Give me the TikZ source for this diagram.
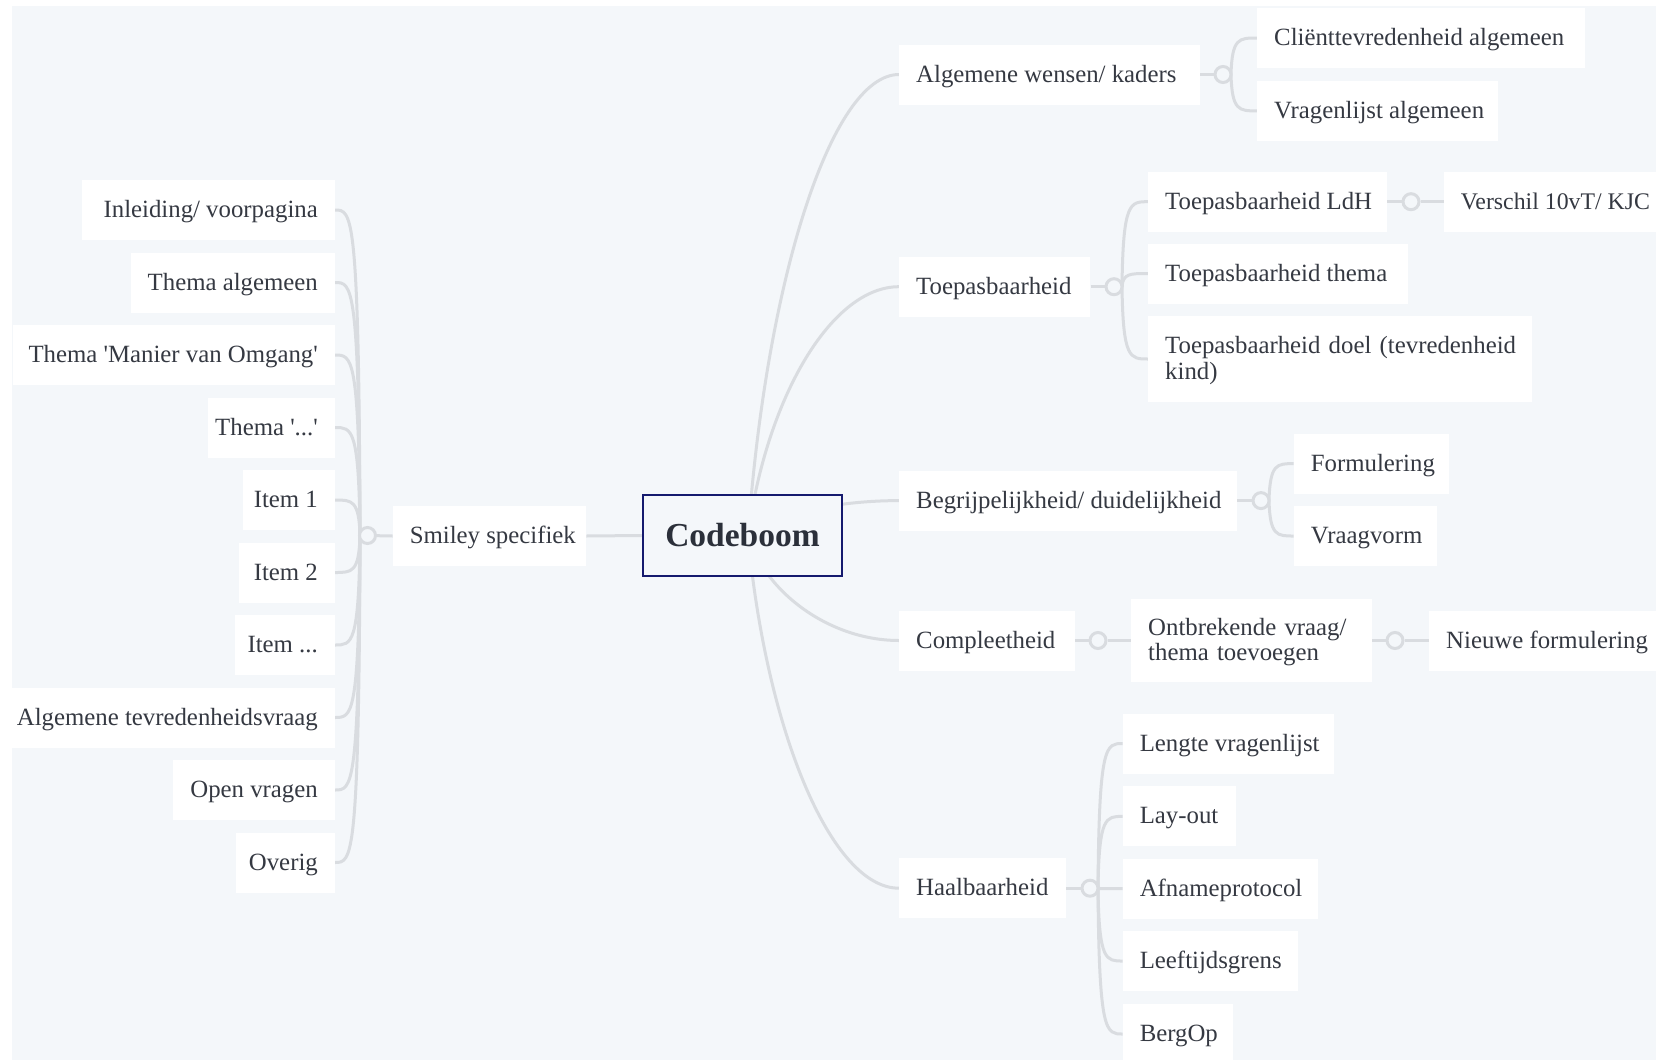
\documentclass[tikz,border=0pt]{standalone}
\usepackage{fontspec}
\setmainfont{Liberation Serif}[Ligatures=TeXOff]
\definecolor{bgc}{HTML}{F4F7FA}
\definecolor{linec}{HTML}{D9DCE0}
\definecolor{txt}{HTML}{353942}
\definecolor{navy}{HTML}{151A6E}
\definecolor{cbtxt}{HTML}{2B303A}
\pgfdeclarelayer{bglayer}
\pgfdeclarelayer{linelayer}
\pgfsetlayers{bglayer,linelayer,main}
\newcommand\Lbx[2]{\makebox[#1pt][l]{#2}}
\newcommand\Rbx[2]{\makebox[#1pt][r]{#2}}
\begin{document}
\begin{tikzpicture}[x=1pt,y=-1pt,
  box/.style={fill=white, text=txt, font=\fontsize{24.8}{25.5}\selectfont, inner xsep=17pt, inner ysep=0pt, minimum height=60pt, text height=18pt, text depth=3pt},
  twoline/.style={text height=18pt, text depth=28.5pt, align=left},
  conn/.style={draw=linec, line width=3pt},
  hub/.style={circle, draw=linec, fill=bgc, line width=3pt, minimum size=16pt, inner sep=0pt}]
\useasboundingbox (0,0) rectangle (1656,1060);
\begin{pgfonlayer}{bglayer}
  \fill[white] (0,0) rectangle (1656,1060);
  \fill[bgc] (12,6) rectangle (1656,1060);
\end{pgfonlayer}

% central node
\node[draw=navy, line width=2.5pt, fill=bgc, text=cbtxt, font=\bfseries\fontsize{33.5}{38}\selectfont, minimum width=199pt, minimum height=81pt, inner sep=0pt] (cb) at (742.5,535.5) {Codeboom};
\coordinate (cb0) at (748,536);

% left branch
\node[box] (sm) at (489.5,536) {\Lbx{159.3}{Smiley specifiek}};
\node[hub] (hL) at (367.5,535.5) {};
\node[box,anchor=east] (l1) at (335,210) {\Rbx{218.4}{Inleiding/ voorpagina}};
\node[box,anchor=east] (l2) at (335,282.5) {\Rbx{169.8}{Thema algemeen}};
\node[box,anchor=east] (l3) at (335,355) {\Rbx{288.1}{Thema 'Manier van Omgang'}};
\node[box,anchor=east] (l4) at (335,427.5) {\Rbx{92.7}{Thema '...'}};
\node[box,anchor=east] (l5) at (335,500) {\Rbx{57.9}{Item 1}};
\node[box,anchor=east] (l6) at (335,572.5) {\Rbx{62.1}{Item 2}};
\node[box,anchor=east] (l7) at (335,645) {\Rbx{66.3}{Item ...}};
\node[box,anchor=east] (l8) at (335,717.5) {\Rbx{290.2}{Algemene tevredenheidsvraag}};
\node[box,anchor=east] (l9) at (335,790) {\Rbx{127.6}{Open vragen}};
\node[box,anchor=east] (l10) at (335,862.5) {\Rbx{65.3}{Overig}};

% right main nodes
\node[box,anchor=west] (n1) at (899,74.5) {\Lbx{267}{Algemene wensen/ kaders}};
\node[box,anchor=west] (n2) at (899,286.7) {\Lbx{157.2}{Toepasbaarheid}};
\node[box,anchor=west] (n3) at (899,500.6) {\Lbx{304}{Begrijpelijkheid/ duidelijkheid}};
\node[box,anchor=west] (n4) at (899,640.5) {\Lbx{141.3}{Compleetheid}};
\node[box,anchor=west] (n5) at (899,888.2) {\Lbx{132.9}{Haalbaarheid}};

% hubs
\node[hub] (hA) at (1223,74.5) {};
\node[hub] (hB) at (1114,286.7) {};
\node[hub] (hF) at (1411,201.7) {};
\node[hub] (hC) at (1261,500.6) {};
\node[hub] (hD) at (1098,640.5) {};
\node[hub] (hG) at (1395,640.5) {};
\node[hub] (hE) at (1090,888.2) {};

% children
\node[box,anchor=west] (a1) at (1257,38) {\Lbx{293.4}{Cliënttevredenheid algemeen}};
\node[box,anchor=west] (a2) at (1257,110.9) {\Lbx{206.8}{Vragenlijst algemeen}};
\node[box,anchor=west] (b1) at (1148,201.7) {\Lbx{204.7}{Toepasbaarheid LdH}};
\node[box,anchor=west] (b2) at (1148,273.5) {\Lbx{225.8}{Toepasbaarheid thema}};
\node[box,twoline,anchor=west,minimum height=86.6pt,text width=349.4pt] (b3) at (1148,359) {\mbox{Toepasbaarheid doel (tevredenheid}\\kind)};
\node[box,anchor=west,font=\fontsize{23.8}{25.5}\selectfont] (b4) at (1443.7,201.7) {\Lbx{200}{Verschil 10vT/ KJC}};
\node[box,anchor=west] (c1) at (1293.7,463.6) {\Lbx{121.2}{Formulering}};
\node[box,anchor=west] (c2) at (1293.7,536) {\Lbx{108.6}{Vraagvorm}};
\node[box,twoline,anchor=west,minimum height=83.4pt,text width=206.8pt] (d1) at (1131,640.5) {\mbox{Ontbrekende vraag/}\\thema toevoegen};
\node[box,anchor=west] (d2) at (1429,640.5) {\Lbx{210}{Nieuwe formulering}};
\node[box,anchor=west] (e1) at (1122.6,743.5) {\Lbx{177.2}{Lengte vragenlijst}};
\node[box,anchor=west] (e2) at (1122.6,816.4) {\Lbx{79}{Lay-out}};
\node[box,anchor=west] (e3) at (1122.6,888.7) {\Lbx{161.4}{Afnameprotocol}};
\node[box,anchor=west] (e4) at (1122.6,961) {\Lbx{141.3}{Leeftijdsgrens}};
\node[box,anchor=west] (e5) at (1122.6,1034) {\Lbx{75.8}{BergOp}};

% trunk helper coordinates
\coordinate (hL0) at (360,535.5); \coordinate (hL1) at (359,0); \coordinate (hL2) at (352,0);
\coordinate (hA0) at (1231,74.5); \coordinate (hA1) at (1232,0); \coordinate (hA2) at (1239,0);
\coordinate (hB0) at (1122,286.7); \coordinate (hB1) at (1123,0); \coordinate (hB2) at (1130,0);
\coordinate (hC0) at (1269,500.6); \coordinate (hC1) at (1270,0); \coordinate (hC2) at (1277,0);
\coordinate (hE0) at (1098,888.2); \coordinate (hE1) at (1099,0); \coordinate (hE2) at (1106,0);

\begin{pgfonlayer}{linelayer}
  % center to main branches
  \draw[conn] (cb.west) -- (sm.east);
  \draw[conn] (cb0) .. controls (766,282.2) and (831,74.5) .. (n1.west);
  \draw[conn] (cb0) .. controls (766,398.9) and (831,286.7) .. (n2.west);
  \draw[conn] (cb0) .. controls (766,516.5) and (831,500.6) .. (n3.west);
  \draw[conn] (cb0) .. controls (766,593.8) and (831,640.5) .. (n4.west);
  \draw[conn] (cb0) .. controls (766,729.7) and (831,888.2) .. (n5.west);
  % left
  \draw[conn] (sm.west) -- (hL);
  \foreach \n in {l1,l2,l3,l4,l5,l6,l7,l8,l9,l10}
    \draw[conn] (hL0) .. controls (hL1 |- \n.east) and (hL2 |- \n.east) .. (\n.east);
  % Algemene
  \draw[conn] (n1.east) -- (hA);
  \foreach \n in {a1,a2}
    \draw[conn] (hA0) .. controls (hA1 |- \n.west) and (hA2 |- \n.west) .. (\n.west);
  % Toepasbaarheid
  \draw[conn] (n2.east) -- (hB);
  \foreach \n in {b1,b2,b3}
    \draw[conn] (hB0) .. controls (hB1 |- \n.west) and (hB2 |- \n.west) .. (\n.west);
  \draw[conn] (b1.east) -- (hF) -- (b4.west);
  % Begrijpelijkheid
  \draw[conn] (n3.east) -- (hC);
  \foreach \n in {c1,c2}
    \draw[conn] (hC0) .. controls (hC1 |- \n.west) and (hC2 |- \n.west) .. (\n.west);
  % Compleetheid
  \draw[conn] (n4.east) -- (hD) -- (d1.west);
  \draw[conn] (d1.east) -- (hG) -- (d2.west);
  % Haalbaarheid
  \draw[conn] (n5.east) -- (hE);
  \foreach \n in {e1,e2,e3,e4,e5}
    \draw[conn] (hE0) .. controls (hE1 |- \n.west) and (hE2 |- \n.west) .. (\n.west);
\end{pgfonlayer}
\end{tikzpicture}
\end{document}
